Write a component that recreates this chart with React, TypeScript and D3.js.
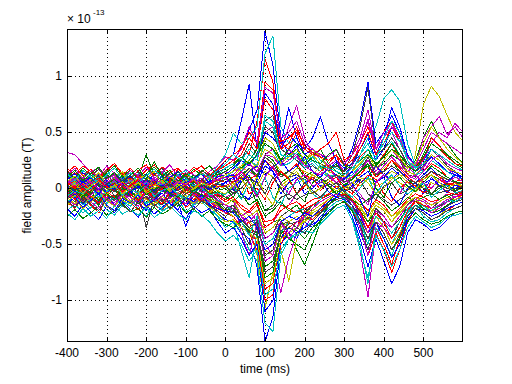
import React from 'react';
import * as d3 from 'd3';

// time axis in ms, one sample every 20 ms
const times = d3.range(-400, 601, 20);

// channel traces in units of 1e-13 T (baseline -400..-20, then 0..600)
const ch00 = [0.10, 0.05, 0.14, 0.08, 0.12, 0.03, 0.09, 0.15, 0.06, 0.11, 0.04, 0.13, 0.07, 0.10, 0.02, 0.12, 0.08, 0.05, 0.11, 0.15,
  0.22, 0.30, 0.35, 0.52, 0.70, 1.40, 1.10, 0.45, 0.30, 0.38, 0.22, 0.28, 0.20, 0.15, 0.24, 0.12, 0.20, 0.35, 0.48, 0.30, 0.45, 0.72, 0.55, 0.30, 0.18, 0.22, 0.30, 0.25, 0.18, 0.14, 0.10];
const ch01 = [-0.05, 0.02, -0.08, 0.00, -0.04, 0.05, -0.02, -0.07, 0.03, -0.05, 0.08, 0.01, -0.03, 0.04, -0.06, 0.00, 0.03, -0.04, 0.02, -0.06,
  -0.10, -0.05, 0.10, 0.05, -0.15, -0.35, -0.30, -0.28, -0.40, -0.55, -0.68, -0.50, -0.30, -0.12, -0.05, 0.02, 0.08, 0.15, 0.20, 0.10, 0.18, 0.25, 0.15, 0.08, 0.02, 0.05, 0.12, 0.08, 0.04, -0.02, 0.03];
const ch02 = [0.04, -0.03, 0.07, 0.00, 0.05, 0.10, 0.02, 0.06, -0.02, 0.08, 0.03, -0.01, 0.06, 0.09, 0.01, 0.05, 0.00, 0.07, 0.03, 0.12,
  0.18, 0.22, 0.38, 0.30, 0.60, 1.15, 0.95, 0.40, 0.35, 0.50, 0.30, 0.25, 0.18, 0.22, 0.30, 0.10, 0.15, 0.28, 0.35, 0.20, 0.30, 0.40, 0.28, 0.12, 0.08, 0.15, 0.22, 0.18, 0.10, 0.06, 0.08];
const ch03 = [0.08, 0.14, 0.05, 0.12, 0.09, 0.16, 0.07, 0.11, 0.04, 0.13, 0.10, 0.06, 0.15, 0.08, 0.12, 0.05, 0.10, 0.14, 0.09, 0.20,
  0.30, 0.49, 0.40, 0.45, 0.55, 1.20, 1.36, 0.55, 0.40, 0.45, 0.30, 0.35, 0.25, 0.20, 0.18, 0.15, 0.22, 0.30, 0.40, 0.25, 0.35, 0.42, 0.30, 0.20, 0.15, 0.20, 0.28, 0.22, 0.15, 0.12, 0.10];
const ch04 = [0.32, 0.30, 0.22, 0.15, 0.18, 0.10, 0.12, 0.05, 0.08, 0.02, 0.06, 0.00, 0.04, -0.02, 0.03, 0.00, -0.03, 0.02, -0.05, -0.10,
  -0.15, -0.10, -0.25, -0.20, -0.30, -0.50, -0.60, -0.93, -0.62, -0.40, -0.35, -0.25, -0.20, -0.15, -0.10, -0.12, -0.25, -0.55, -0.97, -0.40, -0.30, -0.35, -0.25, -0.15, -0.08, -0.10, -0.15, -0.10, -0.05, -0.08, -0.04];
const ch05 = [-0.02, 0.05, 0.01, -0.04, 0.06, 0.00, 0.03, -0.05, 0.02, 0.07, -0.01, 0.04, -0.03, 0.01, 0.05, -0.02, 0.03, 0.00, 0.04, -0.03,
  -0.08, -0.12, -0.25, -0.35, -0.60, -1.07, -0.75, -0.55, -0.83, -0.45, -0.25, -0.15, -0.10, -0.05, 0.00, -0.03, -0.08, -0.15, -0.30, -0.15, -0.20, -0.30, -0.20, -0.10, 0.00, 0.10, 0.15, 0.10, 0.08, 0.05, 0.02];
const ch06 = [0.03, -0.02, 0.05, 0.01, -0.04, 0.02, 0.06, -0.01, 0.04, 0.00, 0.03, -0.03, 0.05, 0.02, -0.02, 0.04, 0.01, -0.01, 0.05, 0.08,
  0.12, 0.15, 0.25, 0.40, 0.30, 0.60, 0.65, 0.35, 0.30, 0.25, 0.18, 0.20, 0.15, 0.20, 0.25, 0.15, 0.30, 0.55, 0.90, 0.35, 0.28, 0.35, 0.25, 0.12, 0.10, 0.20, 0.35, 0.28, 0.20, 0.15, 0.12];
const ch07 = [-0.10, -0.05, -0.14, -0.08, -0.12, -0.06, -0.15, -0.09, -0.04, -0.13, -0.20, -0.08, -0.12, -0.05, -0.10, -0.16, -0.07, -0.11, -0.14, -0.22,
  -0.28, -0.30, -0.40, -0.45, -0.70, -1.37, -1.15, -0.50, -0.40, -0.45, -0.30, -0.35, -0.25, -0.18, -0.12, -0.10, -0.20, -0.40, -0.55, -0.30, -0.40, -0.55, -0.45, -0.25, -0.15, -0.20, -0.25, -0.22, -0.15, -0.12, -0.10];
const ch08 = [0.12, 0.06, 0.10, 0.15, 0.08, 0.13, 0.04, 0.11, 0.16, 0.09, 0.30, 0.12, 0.07, 0.14, 0.10, 0.05, 0.12, 0.08, 0.13, 0.10,
  0.15, 0.20, 0.18, 0.25, 0.35, 0.55, 0.50, 0.30, 0.25, 0.32, 0.20, 0.28, 0.35, 0.22, 0.15, 0.10, 0.12, 0.20, 0.25, 0.18, 0.22, 0.30, 0.25, 0.18, 0.25, 0.45, 0.60, 0.45, 0.40, 0.30, 0.22];
const ch09 = [-0.06, -0.12, -0.03, -0.09, -0.15, -0.05, -0.10, -0.02, -0.08, -0.13, -0.04, -0.11, -0.07, -0.14, -0.09, -0.03, -0.10, -0.06, -0.12, -0.18,
  -0.22, -0.25, -0.35, -0.30, -0.50, -0.90, -0.85, -0.45, -0.30, -0.35, -0.20, -0.25, -0.18, -0.10, -0.05, -0.08, -0.15, -0.30, -0.45, -0.35, -0.50, -0.68, -0.45, -0.20, -0.10, -0.05, 0.05, 0.02, -0.03, -0.06, -0.04];
const ch10 = [-0.15, -0.08, -0.12, -0.18, -0.10, -0.14, -0.06, -0.11, -0.16, -0.09, -0.13, -0.07, -0.12, -0.17, -0.10, -0.08, -0.14, -0.11, -0.15, -0.25,
  -0.30, -0.28, -0.40, -0.55, -0.65, -1.20, -1.28, -0.60, -0.45, -0.40, -0.35, -0.30, -0.22, -0.15, -0.10, -0.08, -0.25, -0.50, -0.85, -0.35, -0.45, -0.60, -0.40, -0.22, -0.15, -0.18, -0.20, -0.15, -0.12, -0.10, -0.08];
const ch11 = [0.05, 0.10, 0.02, 0.08, 0.13, 0.04, 0.09, 0.01, 0.07, 0.12, 0.03, 0.10, 0.06, 0.00, 0.08, 0.14, 0.05, 0.09, 0.03, 0.10,
  0.15, 0.12, 0.20, 0.30, 0.25, 0.50, 0.55, 0.35, 0.55, 0.74, 0.45, 0.30, 0.28, 0.20, 0.25, 0.15, 0.22, 0.40, 0.60, 0.30, 0.40, 0.50, 0.35, 0.20, 0.12, 0.18, 0.30, 0.25, 0.18, 0.12, 0.08];
const ch12 = [0.00, 0.06, -0.03, 0.04, 0.08, 0.01, -0.02, 0.05, 0.09, 0.02, -0.01, 0.06, 0.03, 0.07, 0.00, 0.04, 0.08, 0.02, 0.05, 0.01,
  0.05, 0.10, 0.08, 0.15, 0.12, 0.20, 0.25, 0.15, 0.10, 0.18, 0.15, 0.12, 0.20, 0.10, 0.05, 0.02, 0.05, 0.08, 0.10, 0.05, 0.10, 0.15, 0.12, 0.10, 0.30, 0.75, 0.91, 0.82, 0.65, 0.50, 0.42];
const ch13 = [-0.08, -0.03, -0.11, -0.05, -0.01, -0.09, -0.13, -0.04, -0.07, -0.02, -0.10, -0.06, -0.12, -0.03, -0.08, -0.11, -0.05, -0.09, -0.02, -0.12,
  -0.20, -0.15, -0.35, -0.50, -0.35, -0.60, -0.55, -0.30, -0.25, -0.20, -0.22, -0.15, -0.10, -0.05, 0.02, -0.03, -0.10, -0.25, -0.40, -0.20, -0.30, -0.45, -0.30, -0.15, -0.08, -0.12, -0.18, -0.12, -0.08, -0.05, -0.03];
const ch14 = [0.06, 0.02, 0.09, 0.04, 0.00, 0.07, 0.03, 0.10, 0.05, 0.01, 0.08, 0.04, 0.11, 0.06, 0.02, 0.09, 0.05, 0.03, 0.10, 0.15,
  0.25, 0.30, 0.60, 0.93, 0.35, 0.85, 0.75, 0.40, 0.72, 0.45, 0.30, 0.35, 0.30, 0.25, 0.30, 0.20, 0.35, 0.60, 0.95, 0.40, 0.50, 0.65, 0.50, 0.30, 0.20, 0.25, 0.35, 0.30, 0.22, 0.18, 0.15];
const ch15 = [0.15, 0.09, 0.18, 0.12, 0.06, 0.14, 0.20, 0.10, 0.16, 0.08, 0.13, 0.19, 0.11, 0.05, 0.15, 0.09, 0.17, 0.12, 0.07, 0.14,
  0.18, 0.22, 0.28, 0.20, 0.30, 0.45, 0.40, 0.25, 0.30, 0.35, 0.22, 0.28, 0.20, 0.15, 0.22, 0.12, 0.18, 0.25, 0.35, 0.20, 0.28, 0.40, 0.30, 0.22, 0.18, 0.30, 0.45, 0.38, 0.30, 0.22, 0.18];
const ch16 = [-0.12, -0.18, -0.08, -0.15, -0.22, -0.10, -0.16, -0.06, -0.13, -0.19, -0.09, -0.14, -0.20, -0.11, -0.07, -0.17, -0.12, -0.08, -0.15, -0.20,
  -0.25, -0.20, -0.30, -0.40, -0.55, -1.00, -0.95, -0.50, -0.35, -0.30, -0.25, -0.28, -0.20, -0.15, -0.10, -0.12, -0.18, -0.35, -0.60, -0.40, -0.55, -0.75, -0.55, -0.30, -0.18, -0.22, -0.28, -0.25, -0.20, -0.15, -0.12];
const ch17 = [-0.20, -0.14, -0.22, -0.17, -0.10, -0.19, -0.24, -0.15, -0.11, -0.18, -0.25, -0.13, -0.20, -0.16, -0.09, -0.21, -0.15, -0.12, -0.19, -0.25,
  -0.35, -0.30, -0.55, -0.80, -0.40, -0.75, -0.70, -0.40, -0.30, -0.35, -0.25, -0.30, -0.22, -0.18, -0.12, -0.10, -0.15, -0.30, -0.45, -0.25, -0.35, -0.50, -0.35, -0.20, -0.15, -0.25, -0.30, -0.28, -0.22, -0.18, -0.15];
const ch18 = [0.02, -0.04, 0.05, 0.00, -0.06, 0.03, 0.07, -0.02, 0.04, -0.05, 0.01, 0.06, -0.03, 0.02, 0.05, -0.01, 0.03, -0.04, 0.00, -0.08,
  -0.15, -0.10, -0.40, -0.60, -0.30, -0.35, -0.30, -0.20, -0.15, -0.05, 0.05, 0.10, 0.05, 0.08, 0.12, 0.05, 0.10, 0.15, 0.25, 0.15, 0.25, 0.35, 0.25, 0.15, 0.20, 0.45, 0.55, 0.64, 0.48, 0.55, 0.45];
const ch19 = [0.10, 0.04, 0.12, 0.07, 0.14, 0.02, 0.09, 0.13, 0.05, 0.11, 0.08, 0.15, 0.03, 0.10, 0.06, 0.12, 0.09, 0.14, 0.04, 0.08,
  0.12, 0.10, 0.18, 0.15, 0.22, 0.35, 0.30, 0.20, 0.25, 0.30, 0.22, 0.35, 0.28, 0.18, 0.12, 0.08, 0.10, 0.15, 0.20, 0.12, 0.18, 0.25, 0.20, 0.15, 0.12, 0.20, 0.30, 0.25, 0.18, 0.15, 0.12];
const ch20 = [-0.02, -0.08, 0.01, -0.05, -0.10, -0.03, 0.00, -0.07, -0.12, -0.04, -0.35, -0.09, -0.02, -0.06, -0.11, -0.05, -0.01, -0.08, -0.04, -0.10,
  -0.18, -0.15, -0.25, -0.30, -0.28, -0.45, -0.40, -0.25, -0.20, -0.22, -0.18, -0.20, -0.15, -0.10, -0.05, -0.06, -0.12, -0.22, -0.35, -0.18, -0.25, -0.35, -0.25, -0.15, -0.10, -0.15, -0.20, -0.16, -0.12, -0.08, -0.06];
const ch21 = [0.05, 0.00, 0.08, 0.03, -0.02, 0.06, 0.01, 0.09, 0.04, -0.01, 0.02, 0.07, -0.03, 0.04, -0.12, -0.34, -0.15, 0.03, 0.06, 0.10,
  0.12, 0.18, 0.25, 0.20, 0.30, 0.50, 0.45, 0.35, 0.48, 0.40, 0.35, 0.45, 0.64, 0.40, 0.25, 0.18, 0.22, 0.30, 0.45, 0.25, 0.35, 0.55, 0.45, 0.25, 0.15, 0.20, 0.28, 0.22, 0.15, 0.12, 0.10];
const ch22 = [-0.10, -0.04, -0.13, -0.07, -0.15, -0.02, -0.09, -0.12, -0.05, -0.14, -0.08, -0.03, -0.11, -0.06, -0.16, -0.09, -0.04, -0.12, -0.07, -0.13,
  -0.20, -0.18, -0.28, -0.35, -0.40, -0.70, -0.65, -0.40, -0.45, -0.50, -0.55, -0.40, -0.28, -0.15, -0.08, -0.05, -0.12, -0.20, -0.30, -0.20, -0.25, -0.35, -0.28, -0.18, -0.12, -0.18, -0.22, -0.20, -0.15, -0.10, -0.08];
const ch23 = [0.14, 0.20, 0.11, 0.17, 0.08, 0.15, 0.22, 0.12, 0.18, 0.09, 0.16, 0.21, 0.13, 0.07, 0.17, 0.11, 0.19, 0.14, 0.08, 0.16,
  0.20, 0.25, 0.30, 0.45, 0.35, 0.80, 0.70, 0.35, 0.40, 0.55, 0.35, 0.30, 0.35, 0.40, 0.50, 0.25, 0.30, 0.40, 0.55, 0.35, 0.50, 0.60, 0.45, 0.25, 0.18, 0.25, 0.45, 0.38, 0.28, 0.22, 0.20];
const ch24 = [0.00, 0.05, -0.02, 0.03, 0.08, 0.01, -0.03, 0.04, 0.07, 0.00, 0.05, 0.02, 0.06, -0.01, 0.03, 0.08, 0.02, 0.05, 0.00, 0.04,
  0.10, 0.15, 0.20, 0.30, 0.25, 0.65, 0.60, 0.30, 0.25, 0.30, 0.20, 0.25, 0.18, 0.12, 0.10, 0.08, 0.15, 0.30, 0.45, 0.55, 0.80, 0.88, 0.78, 0.40, 0.20, 0.15, 0.25, 0.20, 0.15, 0.10, 0.08];
const ch25 = [-0.05, 0.01, -0.08, -0.02, 0.04, -0.06, -0.10, -0.03, 0.02, -0.07, -0.01, -0.05, 0.03, -0.09, -0.04, 0.00, -0.06, -0.02, -0.08, -0.05,
  -0.08, -0.05, 0.05, 0.15, 0.10, 0.30, 0.35, 0.20, 0.25, 0.30, 0.20, 0.22, 0.15, 0.10, 0.05, 0.08, 0.20, 0.40, 0.62, 0.35, 0.50, 0.58, 0.45, 0.25, 0.15, 0.25, 0.40, 0.50, 0.45, 0.58, 0.50];
const ch26 = [-0.12, -0.06, -0.15, -0.09, -0.03, -0.11, -0.16, -0.08, -0.13, -0.05, -0.10, -0.14, -0.07, -0.12, -0.04, -0.09, -0.13, -0.06, -0.11, -0.15,
  -0.20, -0.25, -0.22, -0.30, -0.35, -0.55, -0.60, -0.35, -0.30, -0.25, -0.30, -0.22, -0.18, -0.12, -0.08, -0.05, -0.10, -0.18, -0.25, -0.15, -0.20, -0.30, -0.22, -0.15, -0.10, -0.15, -0.20, -0.18, -0.12, -0.10, -0.08];
const ch27 = [0.09, 0.14, 0.06, 0.11, 0.17, 0.08, 0.13, 0.04, 0.10, 0.15, 0.07, 0.12, 0.18, 0.09, 0.05, 0.13, 0.08, 0.16, 0.11, 0.14,
  0.18, 0.22, 0.25, 0.35, 0.28, 0.55, 0.50, 0.30, 0.28, 0.32, 0.25, 0.30, 0.22, 0.18, 0.20, 0.15, 0.22, 0.35, 0.50, 0.30, 0.35, 0.45, 0.35, 0.22, 0.15, 0.22, 0.35, 0.30, 0.22, 0.18, 0.15];
const ch28 = [-0.18, -0.25, -0.14, -0.21, -0.28, -0.16, -0.22, -0.12, -0.19, -0.26, -0.15, -0.23, -0.17, -0.11, -0.20, -0.27, -0.16, -0.22, -0.18, -0.30,
  -0.40, -0.35, -0.45, -0.60, -0.50, -1.10, -1.00, -0.45, -0.35, -0.40, -0.35, -0.32, -0.28, -0.20, -0.15, -0.12, -0.25, -0.45, -0.70, -0.45, -0.65, -0.85, -0.70, -0.40, -0.28, -0.32, -0.38, -0.35, -0.28, -0.22, -0.20];
const ch29 = [-0.25, -0.19, -0.27, -0.22, -0.16, -0.24, -0.20, -0.14, -0.21, -0.18, -0.26, -0.17, -0.23, -0.19, -0.13, -0.22, -0.18, -0.25, -0.20, -0.28,
  -0.32, -0.35, -0.30, -0.38, -0.42, -0.80, -0.75, -0.40, -0.35, -0.38, -0.45, -0.35, -0.30, -0.22, -0.15, -0.12, -0.20, -0.35, -0.50, -0.30, -0.40, -0.55, -0.45, -0.30, -0.22, -0.28, -0.32, -0.30, -0.25, -0.22, -0.20];
const ch30 = [0.18, 0.12, 0.20, 0.15, 0.09, 0.17, 0.22, 0.13, 0.08, 0.16, 0.21, 0.11, 0.19, 0.14, 0.18, 0.10, 0.15, 0.20, 0.12, 0.17,
  0.25, 0.30, 0.35, 0.50, 0.40, 0.95, 0.88, 0.42, 0.45, 0.52, 0.38, 0.32, 0.28, 0.25, 0.30, 0.20, 0.25, 0.35, 0.50, 0.30, 0.40, 0.55, 0.42, 0.28, 0.20, 0.28, 0.40, 0.35, 0.28, 0.22, 0.20];
const ch31 = [-0.22, -0.28, -0.18, -0.25, -0.20, -0.27, -0.15, -0.23, -0.19, -0.24, -0.17, -0.26, -0.21, -0.16, -0.23, -0.28, -0.20, -0.24, -0.30, -0.40,
  -0.47, -0.42, -0.50, -0.65, -0.55, -0.95, -0.90, -0.55, -0.45, -0.42, -0.38, -0.40, -0.32, -0.25, -0.18, -0.15, -0.28, -0.55, -0.80, -0.42, -0.55, -0.70, -0.55, -0.35, -0.25, -0.30, -0.35, -0.32, -0.26, -0.24, -0.22];
const ch32 = [0.12, 0.18, 0.08, 0.15, 0.10, 0.20, 0.13, 0.07, 0.16, 0.11, 0.19, 0.09, 0.14, 0.21, 0.10, 0.17, 0.12, 0.08, 0.15, 0.20,
  0.28, 0.25, 0.35, 0.55, 0.40, 0.90, 0.85, 0.45, 0.50, 0.60, 0.40, 0.35, 0.30, 0.28, 0.35, 0.22, 0.30, 0.45, 0.70, 0.35, 0.45, 0.55, 0.45, 0.28, 0.20, 0.35, 0.50, 0.45, 0.40, 0.35, 0.30];
const ch33 = [-0.15, -0.10, -0.18, -0.12, -0.07, -0.16, -0.20, -0.11, -0.14, -0.08, -0.17, -0.13, -0.09, -0.19, -0.12, -0.06, -0.15, -0.10, -0.17, -0.22,
  -0.30, -0.28, -0.35, -0.40, -0.45, -0.85, -0.80, -0.45, -0.40, -0.35, -0.30, -0.25, -0.22, -0.15, -0.10, -0.08, -0.15, -0.28, -0.40, -0.25, -0.35, -0.50, -0.40, -0.25, -0.18, -0.22, -0.28, -0.25, -0.18, -0.15, -0.12];
const ch34 = [-0.05, -0.12, -0.02, -0.09, -0.14, -0.06, -0.11, -0.03, -0.08, -0.13, -0.04, -0.10, -0.15, -0.07, -0.01, -0.09, -0.12, -0.05, -0.10, -0.14,
  -0.22, -0.20, -0.30, -0.40, -0.38, -0.75, -0.70, -0.38, -0.32, -0.30, -0.28, -0.25, -0.20, -0.12, -0.08, -0.06, -0.15, -0.32, -0.55, -0.30, -0.40, -0.55, -0.42, -0.25, -0.15, -0.20, -0.25, -0.22, -0.16, -0.12, -0.10];
const ch35 = [0.00, -0.05, 0.04, -0.02, 0.06, -0.04, 0.01, 0.05, -0.03, 0.02, -0.06, 0.03, 0.00, -0.04, 0.05, -0.01, 0.04, -0.03, 0.02, 0.00,
  0.05, -0.02, 0.08, 0.10, 0.05, 0.20, 0.15, 0.05, 0.10, 0.12, 0.05, 0.08, 0.02, 0.05, 0.00, -0.03, 0.02, 0.10, 0.15, 0.05, 0.10, 0.18, 0.12, 0.05, 0.00, 0.04, 0.08, 0.05, 0.02, 0.00, -0.02];
const ch36 = [0.05, 0.00, 0.07, 0.02, -0.03, 0.04, 0.08, 0.01, -0.02, 0.06, 0.03, -0.01, 0.05, 0.09, 0.02, -0.02, 0.06, 0.01, 0.04, 0.07,
  0.10, 0.05, 0.12, 0.18, 0.10, 0.30, 0.25, 0.12, 0.15, 0.20, 0.10, 0.15, 0.08, 0.05, 0.10, 0.03, 0.08, 0.15, 0.22, 0.10, 0.15, 0.20, 0.15, 0.08, 0.05, 0.12, 0.20, 0.15, 0.10, 0.06, 0.04];
const ch37 = [-0.03, 0.02, -0.06, 0.00, -0.02, -0.08, 0.01, -0.04, 0.03, -0.05, -0.01, -0.07, 0.02, -0.03, -0.06, 0.01, -0.04, -0.08, -0.02, -0.05,
  -0.10, -0.08, -0.15, -0.20, -0.12, -0.35, -0.30, -0.15, -0.18, -0.22, -0.15, -0.10, -0.08, -0.05, 0.02, 0.00, -0.05, -0.12, -0.20, -0.10, -0.15, -0.25, -0.18, -0.10, -0.05, -0.08, -0.12, -0.10, -0.06, -0.04, -0.03];
const ch38 = [0.03, 0.08, 0.00, 0.05, 0.10, 0.02, 0.06, -0.01, 0.04, 0.09, 0.01, 0.07, 0.03, -0.02, 0.06, 0.10, 0.02, 0.05, 0.08, 0.12,
  0.18, 0.22, 0.15, 0.25, 0.20, 0.40, 0.35, 0.20, 0.22, 0.28, 0.18, 0.22, 0.15, 0.10, 0.12, 0.08, 0.12, 0.20, 0.30, 0.25, 0.45, 0.60, 0.50, 0.25, 0.12, 0.15, 0.25, 0.20, 0.15, 0.10, 0.08];
const ch39 = [-0.10, -0.15, -0.06, -0.12, -0.18, -0.08, -0.13, -0.04, -0.11, -0.16, -0.07, -0.12, -0.09, -0.14, -0.05, -0.10, -0.15, -0.07, -0.12, -0.16,
  -0.22, -0.18, -0.25, -0.35, -0.30, -0.65, -0.60, -0.30, -0.40, -0.30, -0.25, -0.20, -0.15, -0.10, -0.05, -0.08, -0.15, -0.35, -0.60, -0.30, -0.35, -0.45, -0.35, -0.20, -0.12, -0.15, -0.22, -0.18, -0.12, -0.10, -0.08];
const ch40 = [0.06, 0.11, 0.03, 0.08, 0.13, 0.05, 0.10, 0.15, 0.04, 0.09, 0.12, 0.02, 0.07, 0.11, 0.05, 0.13, 0.08, 0.03, 0.10, 0.06,
  0.12, 0.15, 0.20, 0.25, 0.18, 0.45, 0.40, 0.22, 0.28, 0.35, 0.25, 0.30, 0.22, 0.15, 0.12, 0.10, 0.15, 0.22, 0.30, 0.18, 0.25, 0.35, 0.28, 0.18, 0.22, 0.40, 0.55, 0.45, 0.35, 0.28, 0.22];
const ch41 = [-0.02, 0.03, -0.05, 0.01, -0.03, 0.04, -0.07, -0.01, 0.02, -0.04, 0.00, -0.06, 0.03, -0.02, 0.01, -0.05, 0.02, -0.03, 0.00, -0.04,
  -0.05, 0.00, -0.08, -0.10, -0.05, -0.20, -0.18, -0.08, -0.05, -0.10, -0.06, -0.04, 0.00, 0.03, 0.05, 0.02, -0.02, -0.08, -0.12, -0.05, -0.10, -0.15, -0.10, -0.05, 0.00, -0.03, -0.06, -0.04, -0.02, 0.00, 0.02];
const ch42 = [0.08, 0.13, 0.04, 0.10, 0.02, 0.09, 0.14, 0.06, 0.11, 0.03, 0.12, 0.07, 0.01, 0.10, 0.15, 0.05, 0.09, 0.13, 0.04, 0.08,
  0.10, 0.12, 0.05, 0.15, 0.20, 0.12, 0.18, 0.25, 0.15, 0.20, 0.28, 0.15, 0.10, 0.18, 0.12, 0.08, 0.15, 0.05, 0.10, 0.20, 0.12, 0.08, 0.15, 0.10, 0.05, 0.12, 0.18, 0.10, 0.06, 0.12, 0.08];
const ch43 = [-0.06, -0.01, -0.09, -0.03, -0.11, -0.05, 0.00, -0.08, -0.02, -0.10, -0.04, -0.12, -0.07, 0.01, -0.05, -0.09, -0.02, -0.06, -0.10, -0.03,
  -0.08, -0.12, -0.05, -0.15, -0.10, -0.25, -0.20, -0.12, -0.20, -0.15, -0.25, -0.18, -0.10, -0.06, -0.02, -0.05, -0.10, -0.15, -0.10, -0.05, -0.12, -0.20, -0.15, -0.08, -0.12, -0.08, -0.05, -0.10, -0.06, -0.12, -0.08];
const ch44 = [0.02, 0.07, -0.01, 0.04, 0.09, 0.00, 0.05, -0.03, 0.03, 0.08, 0.01, 0.06, -0.02, 0.04, 0.10, 0.02, -0.01, 0.06, 0.03, 0.08,
  0.05, 0.10, 0.15, 0.08, 0.12, 0.25, 0.18, 0.10, 0.15, 0.22, 0.12, 0.08, 0.15, 0.20, 0.10, 0.05, 0.10, 0.12, 0.20, 0.10, 0.15, 0.25, 0.18, 0.10, 0.05, 0.08, 0.15, 0.10, 0.05, 0.02, 0.06];
const ch45 = [-0.12, -0.07, -0.15, -0.10, -0.04, -0.13, -0.08, -0.16, -0.11, -0.05, -0.14, -0.09, -0.18, -0.12, -0.06, -0.10, -0.15, -0.08, -0.13, -0.10,
  -0.15, -0.20, -0.30, -0.42, -0.25, -0.50, -0.45, -0.30, -0.25, -0.20, -0.18, -0.15, -0.12, -0.08, -0.05, -0.10, -0.18, -0.30, -0.50, -0.25, -0.30, -0.40, -0.30, -0.18, -0.12, -0.16, -0.20, -0.15, -0.10, -0.12, -0.08];
const ch46 = [0.07, 0.02, 0.10, 0.05, 0.00, 0.08, 0.12, 0.03, 0.06, 0.11, 0.01, 0.09, 0.04, 0.13, 0.06, 0.02, 0.09, 0.05, 0.11, 0.07,
  0.10, 0.08, 0.15, 0.22, 0.15, 0.30, 0.28, 0.20, 0.35, 0.28, 0.20, 0.15, 0.12, 0.18, 0.10, 0.05, 0.10, 0.18, 0.25, 0.12, 0.20, 0.28, 0.20, 0.12, 0.08, 0.15, 0.25, 0.30, 0.22, 0.18, 0.15];
const ch47 = [-0.08, -0.14, -0.05, -0.11, -0.02, -0.09, -0.15, -0.06, -0.12, -0.03, -0.10, -0.16, -0.07, -0.13, -0.04, -0.11, -0.06, -0.14, -0.09, -0.12,
  -0.15, -0.10, -0.18, -0.25, -0.20, -0.40, -0.35, -0.25, -0.30, -0.35, -0.28, -0.20, -0.15, -0.10, -0.05, -0.03, -0.08, -0.15, -0.22, -0.12, -0.18, -0.25, -0.20, -0.12, -0.08, -0.12, -0.15, -0.12, -0.08, -0.10, -0.06];
const ch48 = [0.04, 0.09, 0.01, 0.06, 0.11, 0.03, -0.02, 0.07, 0.12, 0.02, 0.08, 0.05, 0.10, 0.00, 0.06, 0.11, 0.03, 0.08, 0.01, 0.05,
  0.08, 0.05, 0.10, 0.18, 0.12, 0.28, 0.22, 0.10, 0.15, 0.12, 0.08, 0.10, 0.05, 0.08, 0.12, 0.06, 0.08, 0.15, 0.28, 0.12, 0.15, 0.20, 0.15, 0.08, 0.05, 0.10, 0.15, 0.12, 0.08, 0.05, 0.04];
const ch49 = [-0.14, -0.08, -0.17, -0.11, -0.05, -0.15, -0.20, -0.09, -0.13, -0.06, -0.16, -0.10, -0.04, -0.14, -0.19, -0.08, -0.12, -0.06, -0.15, -0.18,
  -0.20, -0.22, -0.30, -0.25, -0.35, -0.55, -0.50, -0.30, -0.25, -0.28, -0.22, -0.25, -0.18, -0.12, -0.08, -0.10, -0.15, -0.25, -0.40, -0.30, -0.45, -0.62, -0.50, -0.28, -0.18, -0.20, -0.25, -0.22, -0.18, -0.15, -0.12];
const ch50 = [0.10, 0.16, 0.07, 0.13, 0.19, 0.09, 0.14, 0.05, 0.12, 0.18, 0.08, 0.24, 0.11, 0.16, 0.06, 0.13, 0.09, 0.15, 0.20, 0.12,
  0.15, 0.20, 0.28, 0.22, 0.30, 0.40, 0.35, 0.25, 0.35, 0.40, 0.30, 0.25, 0.22, 0.30, 0.35, 0.20, 0.18, 0.25, 0.30, 0.22, 0.28, 0.35, 0.30, 0.20, 0.15, 0.28, 0.40, 0.35, 0.30, 0.25, 0.20];
const ch51 = [-0.04, -0.10, 0.00, -0.07, -0.13, -0.03, -0.08, 0.02, -0.05, -0.11, -0.02, -0.09, -0.14, -0.04, -0.08, -0.01, -0.06, -0.12, -0.03, -0.07,
  -0.12, -0.08, -0.18, -0.22, -0.15, -0.30, -0.28, -0.20, -0.15, -0.12, -0.18, -0.15, -0.10, -0.05, -0.08, -0.05, -0.10, -0.20, -0.35, -0.22, -0.30, -0.45, -0.35, -0.20, -0.12, -0.15, -0.18, -0.15, -0.10, -0.08, -0.06];
const ch52 = [0.13, 0.07, 0.16, 0.10, 0.04, 0.12, 0.18, 0.08, 0.14, 0.05, 0.11, 0.17, 0.09, 0.03, 0.12, 0.16, 0.07, 0.13, 0.10, 0.16,
  0.22, 0.30, 0.25, 0.35, 0.28, 0.60, 0.55, 0.30, 0.28, 0.32, 0.25, 0.28, 0.20, 0.18, 0.15, 0.12, 0.18, 0.25, 0.35, 0.28, 0.40, 0.50, 0.42, 0.25, 0.18, 0.22, 0.35, 0.30, 0.25, 0.20, 0.16];
const ch53 = [-0.09, -0.04, -0.12, -0.06, -0.01, -0.10, -0.15, -0.05, -0.08, -0.13, -0.03, -0.11, -0.07, -0.02, -0.09, -0.14, -0.05, -0.10, -0.06, -0.11,
  -0.15, -0.18, -0.25, -0.30, -0.22, -0.45, -0.40, -0.30, -0.45, -0.35, -0.25, -0.18, -0.12, -0.08, -0.05, -0.08, -0.12, -0.22, -0.40, -0.20, -0.25, -0.35, -0.25, -0.15, -0.10, -0.12, -0.18, -0.15, -0.10, -0.08, -0.05];
const ch54 = [0.01, -0.04, 0.05, -0.01, 0.03, -0.06, 0.02, 0.06, -0.02, 0.04, -0.05, 0.00, 0.05, -0.03, 0.02, 0.07, -0.01, 0.03, -0.04, 0.02,
  0.00, 0.05, -0.05, 0.08, 0.02, 0.15, 0.10, 0.00, 0.05, 0.10, 0.05, 0.12, 0.08, 0.02, -0.02, 0.00, 0.05, 0.02, 0.08, 0.02, 0.05, 0.10, 0.05, 0.00, -0.03, 0.02, 0.05, 0.02, 0.00, -0.02, 0.00];
const ch55 = [-0.11, -0.17, -0.08, -0.14, -0.20, -0.10, -0.06, -0.15, -0.21, -0.12, -0.07, -0.16, -0.10, -0.18, -0.13, -0.08, -0.19, -0.11, -0.16, -0.20,
  -0.25, -0.20, -0.28, -0.35, -0.30, -0.60, -0.55, -0.32, -0.30, -0.35, -0.40, -0.30, -0.22, -0.15, -0.10, -0.08, -0.15, -0.28, -0.45, -0.30, -0.40, -0.55, -0.42, -0.25, -0.18, -0.22, -0.28, -0.25, -0.20, -0.18, -0.15];
const ch56 = [0.02, -0.03, 0.06, 0.00, -0.05, 0.03, -0.01, 0.05, -0.04, 0.01, 0.04, -0.02, 0.03, -0.05, 0.00, 0.06, -0.03, 0.02, -0.01, 0.03,
  0.05, 0.10, -0.05, -0.10, 0.08, 0.25, 0.15, -0.05, 0.05, 0.10, -0.05, 0.00, 0.08, -0.03, -0.08, 0.02, 0.05, -0.10, -0.25, 0.05, 0.10, -0.08, -0.15, 0.00, 0.05, -0.05, 0.10, 0.02, -0.04, 0.03, 0.00];
const ch57 = [-0.04, 0.01, -0.07, -0.02, 0.03, -0.05, -0.09, 0.00, -0.03, 0.04, -0.06, -0.01, 0.02, -0.04, -0.08, 0.01, -0.02, 0.03, -0.05, -0.02,
  0.00, -0.08, 0.05, 0.12, -0.05, -0.20, -0.15, 0.05, 0.10, -0.05, -0.12, 0.05, 0.10, 0.02, -0.05, 0.03, 0.08, 0.15, 0.20, 0.00, -0.08, 0.05, 0.10, 0.02, -0.03, 0.05, -0.05, 0.00, 0.04, -0.02, 0.01];
const ch58 = [0.06, 0.00, 0.04, -0.02, 0.07, 0.02, -0.03, 0.05, 0.01, 0.08, -0.01, 0.04, 0.00, 0.06, -0.02, 0.03, 0.07, -0.01, 0.05, 0.02,
  0.02, 0.06, 0.10, -0.05, 0.00, -0.10, 0.05, 0.15, 0.08, -0.05, 0.02, 0.10, -0.02, 0.05, 0.10, 0.00, -0.05, 0.05, 0.12, 0.08, -0.05, -0.12, 0.00, 0.06, 0.02, -0.04, 0.00, 0.08, 0.03, 0.05, 0.00];
const ch59 = [-0.07, -0.02, -0.05, 0.01, -0.08, -0.03, 0.02, -0.06, -0.01, -0.04, 0.03, -0.07, -0.02, 0.01, -0.05, -0.09, -0.03, 0.00, -0.06, -0.04,
  -0.06, 0.02, -0.10, 0.05, -0.05, 0.10, -0.08, -0.15, 0.00, 0.05, 0.08, -0.05, -0.10, 0.00, 0.05, -0.02, -0.08, 0.00, 0.10, -0.05, 0.05, 0.12, 0.02, -0.05, 0.00, 0.05, -0.08, -0.02, 0.03, -0.04, -0.02];
const ch60 = [0.04, 0.09, 0.02, 0.06, -0.01, 0.05, 0.10, 0.03, -0.02, 0.07, 0.02, 0.08, 0.04, -0.01, 0.06, 0.03, 0.09, 0.00, 0.05, 0.08,
  0.10, 0.00, 0.15, 0.05, -0.08, 0.10, 0.20, 0.05, -0.05, 0.08, 0.12, 0.02, 0.05, 0.12, 0.05, 0.10, 0.02, -0.05, -0.15, 0.05, 0.12, 0.05, -0.05, 0.08, 0.12, 0.05, 0.00, 0.08, 0.05, 0.10, 0.06];
const ch61 = [-0.01, 0.04, -0.04, 0.02, 0.06, -0.02, 0.03, -0.05, 0.01, 0.05, -0.03, 0.02, 0.07, -0.01, 0.04, -0.04, 0.00, 0.05, 0.02, -0.02,
  -0.05, 0.03, 0.08, 0.00, 0.10, -0.05, -0.15, 0.02, 0.08, 0.15, 0.05, -0.05, 0.00, 0.08, 0.02, -0.05, 0.05, 0.10, 0.05, -0.05, 0.00, 0.08, 0.12, 0.05, -0.02, 0.08, 0.12, 0.05, 0.00, 0.04, 0.02];
const ch62 = [0.03, -0.02, 0.01, -0.05, 0.04, 0.00, -0.03, 0.02, 0.05, -0.01, 0.03, -0.04, 0.01, 0.04, -0.02, 0.02, -0.05, 0.03, 0.00, 0.04,
  0.02, -0.05, 0.00, 0.08, 0.05, -0.05, 0.10, 0.00, -0.10, -0.05, 0.05, -0.02, -0.08, 0.00, 0.05, -0.03, 0.00, 0.08, -0.05, -0.10, 0.02, 0.05, -0.05, -0.02, 0.05, 0.00, -0.05, 0.03, 0.00, -0.03, 0.02];

const channels = [ch00, ch01, ch02, ch03, ch04, ch05, ch06, ch07, ch08, ch09, ch10, ch11, ch12, ch13,
  ch14, ch15, ch16, ch17, ch18, ch19, ch20, ch21, ch22, ch23, ch24, ch25, ch26, ch27,
  ch28, ch29, ch30, ch31, ch32, ch33, ch34, ch35, ch36, ch37, ch38, ch39, ch40, ch41,
  ch42, ch43, ch44, ch45, ch46, ch47, ch48, ch49, ch50, ch51, ch52, ch53, ch54, ch55,
  ch56, ch57, ch58, ch59, ch60, ch61, ch62];

// old MATLAB line colour order
const colorOrder = ['#0000ff', '#008000', '#ff0000', '#00bfbf', '#bf00bf', '#bfbf00', '#404040'];

const xTicks = [-400, -300, -200, -100, 0, 100, 200, 300, 400, 500];
const yTicks = [-1, -0.5, 0, 0.5, 1];

const W = 512;
const H = 384;
const margin = { top: 29, right: 49, bottom: 42, left: 67 };
const font = '"Liberation Sans", Arial, Helvetica, sans-serif';

const App = () => {
  const x = d3.scaleLinear().domain([-400, 600]).range([margin.left, W - margin.right]);
  const y = d3.scaleLinear().domain([-1.372, 1.422]).range([H - margin.bottom, margin.top]);

  const line = d3.line<number>()
    .x((_, i) => x(times[i]))
    .y(d => y(d));

  const x0 = margin.left;
  const x1 = W - margin.right;
  const y0 = margin.top;
  const y1 = H - margin.bottom;

  return (
    <svg width={W} height={H} style={{ position: 'absolute', left: 0, top: 0, background: '#fff' }}
      fontFamily={font}>
      <rect x={0} y={0} width={W} height={H} fill="#fff" />
      <defs>
        <clipPath id="plot">
          <rect x={x0} y={y0} width={x1 - x0} height={y1 - y0} />
        </clipPath>
      </defs>

      {/* dotted grid */}
      <g stroke="#000" strokeWidth={1} strokeDasharray="1,3" shapeRendering="crispEdges">
        {xTicks.filter(t => t > -400).map(t => (
          <line key={'gx' + t} x1={Math.round(x(t)) + 0.5} x2={Math.round(x(t)) + 0.5} y1={y0} y2={y1} />
        ))}
        {yTicks.map(t => (
          <line key={'gy' + t} x1={x0} x2={x1} y1={Math.round(y(t)) + 0.5} y2={Math.round(y(t)) + 0.5} />
        ))}
      </g>

      {/* channel traces */}
      <g clipPath="url(#plot)" fill="none" strokeWidth={1} strokeLinejoin="round" shapeRendering="crispEdges">
        {channels.map((c, i) => (
          <path key={i} d={line(c) || ''} stroke={colorOrder[i % colorOrder.length]} />
        ))}
      </g>

      {/* box and ticks */}
      <g stroke="#000" strokeWidth={1} shapeRendering="crispEdges" fill="none">
        <rect x={x0 + 0.5} y={y0 + 0.5} width={x1 - x0 - 1} height={y1 - y0 - 1} />
        {xTicks.map(t => (
          <g key={'tx' + t}>
            <line x1={Math.round(x(t)) + 0.5} x2={Math.round(x(t)) + 0.5} y1={y1} y2={y1 - 4} />
            <line x1={Math.round(x(t)) + 0.5} x2={Math.round(x(t)) + 0.5} y1={y0} y2={y0 + 4} />
          </g>
        ))}
        {yTicks.map(t => (
          <g key={'ty' + t}>
            <line x1={x0} x2={x0 + 4} y1={Math.round(y(t)) + 0.5} y2={Math.round(y(t)) + 0.5} />
            <line x1={x1} x2={x1 - 4} y1={Math.round(y(t)) + 0.5} y2={Math.round(y(t)) + 0.5} />
          </g>
        ))}
      </g>

      {/* tick labels */}
      <g fontSize={12} fill="#000">
        {xTicks.map(t => (
          <text key={'lx' + t} x={x(t)} y={y1 + 15} textAnchor="middle">{t}</text>
        ))}
        {yTicks.map(t => (
          <text key={'ly' + t} x={x0 - 5} y={y(t) + 4} textAnchor="end">{t}</text>
        ))}
      </g>

      {/* exponent label */}
      <text x={x0} y={23} fontSize={12} fill="#000">× 10</text>
      <text x={x0 + 26} y={15} fontSize={8} fill="#000">-13</text>

      {/* axis labels */}
      <text x={(x0 + x1) / 2} y={373} fontSize={12} textAnchor="middle" fill="#000">time (ms)</text>
      <text transform={`translate(31,${(y0 + y1) / 2}) rotate(-90)`} fontSize={12} textAnchor="middle" fill="#000">
        field amplitude (T)
      </text>
    </svg>
  );
};

export default App;
